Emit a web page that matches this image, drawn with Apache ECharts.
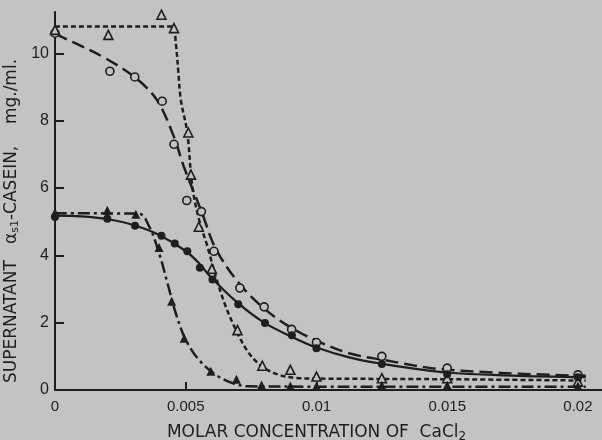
<!DOCTYPE html>
<html>
<head>
<meta charset="utf-8">
<script src="https://cdn.jsdelivr.net/npm/echarts@6/dist/echarts.min.js"></script>
<style>html,body{margin:0;padding:0;background:#c3c3c3;}#c{width:602px;height:440px;}</style>
</head>
<body>
<div id="c"></div>
<script>
// Tick values and labels
var xTicks = [0, 0.005, 0.01, 0.015, 0.02];
var xTickLabels = ['0', '0.005', '0.01', '0.015', '0.02'];
var yTicks = [0, 2, 4, 6, 8, 10];

// Measured points: [CaCl2 molarity, supernatant alpha-s1 casein mg/ml]
var openCircles = [[0,10.6],[0.0021,9.47],[0.00305,9.3],[0.0041,8.58],[0.00455,7.3],[0.00504,5.63],[0.0056,5.3],[0.00608,4.12],[0.00707,3.03],[0.008,2.47],[0.00905,1.8],[0.01,1.41],[0.0125,1.0],[0.015,0.65],[0.02,0.45]];
var openTriangles = [[0,10.7],[0.00204,10.55],[0.00407,11.15],[0.00455,10.75],[0.0051,7.65],[0.0052,6.4],[0.0055,4.85],[0.006,3.6],[0.00698,1.78],[0.00793,0.72],[0.009,0.6],[0.01,0.4],[0.0125,0.35],[0.015,0.35],[0.02,0.25]];
var filledCircles = [[0,5.14],[0.002,5.09],[0.00306,4.88],[0.00407,4.58],[0.00458,4.35],[0.00506,4.12],[0.00554,3.63],[0.00602,3.28],[0.00701,2.55],[0.00803,1.99],[0.00906,1.63],[0.01,1.24],[0.0125,0.77],[0.015,0.47],[0.02,0.38]];
var filledTriangles = [[0,5.27],[0.002,5.34],[0.00309,5.22],[0.00398,4.23],[0.00446,2.64],[0.00494,1.54],[0.00596,0.56],[0.00694,0.32],[0.0079,0.15],[0.009,0.12],[0.01,0.12],[0.0125,0.14],[0.015,0.14],[0.02,0.12]];

// Hand-drawn fitted curves
var curveOpenCircles = [[0,10.58],[0.00067,10.34],[0.00194,9.85],[0.0031,9.26],[0.0039,8.61],[0.00455,7.52],[0.00493,6.63],[0.00563,5.25],[0.00614,4.21],[0.00704,3.17],[0.00806,2.38],[0.00908,1.83],[0.0101,1.43],[0.01125,1.09],[0.0125,0.9],[0.015,0.6],[0.0203,0.42]];
var curveOpenTriangles = [[0,10.8],[0.0045,10.8],[0.00462,10.3],[0.00472,9.42],[0.00481,8.63],[0.00506,7.64],[0.00525,6.05],[0.00551,5.06],[0.00583,4.26],[0.00615,3.37],[0.00653,2.48],[0.00698,1.69],[0.00742,1.09],[0.00793,0.69],[0.00857,0.45],[0.00921,0.36],[0.01,0.34],[0.015,0.32],[0.0203,0.28]];
var curveFilledCircles = [[0,5.18],[0.001,5.16],[0.002,5.08],[0.003,4.9],[0.004,4.6],[0.005,4.13],[0.0055,3.77],[0.006,3.32],[0.007,2.58],[0.008,2.0],[0.009,1.6],[0.01,1.26],[0.01125,0.97],[0.0125,0.78],[0.015,0.52],[0.0175,0.43],[0.0203,0.38]];
var curveFilledTriangles = [[0,5.25],[0.0032,5.24],[0.0036,4.86],[0.00398,4.07],[0.0043,3.18],[0.00462,2.28],[0.005,1.49],[0.00551,0.89],[0.00615,0.45],[0.0068,0.2],[0.0074,0.11],[0.01,0.1],[0.015,0.1],[0.0203,0.1]];

var BG = '#c3c3c3', INK = '#1e1e1e';
var chart = echarts.init(document.getElementById('c'), null, {renderer:'canvas'});
function curve(data, type, w) {
  return {type:'line', data:data, smooth:0.35, showSymbol:false, symbol:'none', silent:true,
    lineStyle:{color:INK, width:w, type:type, cap:'butt'}, z:2};
}
function pts(data, symbol, filled, size) {
  return {type:'scatter', data:data, symbol:symbol, symbolSize:size, silent:true, z:5,
    itemStyle:{color: filled ? INK : BG, borderColor:INK, borderWidth: filled ? 0 : 1.6, opacity:1}};
}
chart.setOption({
  animation:false,
  backgroundColor:BG,
  grid:{left:55, right:0, top:12, bottom:50, containLabel:false, outerBoundsMode:'none'},
  xAxis:{type:'value', min:0, max:0.02092,
    name:'MOLAR CONCENTRATION OF  CaCl{sub|2}', nameLocation:'middle', nameGap:33,
    nameTextStyle:{fontFamily:'DejaVu Sans', fontSize:17, color:INK, padding:[0,24,0,0],
      rich:{sub:{fontFamily:'DejaVu Sans', fontSize:12, color:INK, verticalAlign:'bottom', padding:[8,0,0,0]}}},
    axisLine:{show:true, lineStyle:{color:INK, width:2}},
    axisTick:{show:true, inside:true, length:8, lineStyle:{color:INK, width:2}, customValues:xTicks},
    axisLabel:{show:true, margin:9, fontFamily:'Liberation Sans', fontSize:15, color:INK, customValues:xTicks,
      formatter:function(v){ var i = xTicks.indexOf(v); return i >= 0 ? xTickLabels[i] : ''; }},
    splitLine:{show:false}},
  yAxis:{type:'value', min:0, max:11.23,
    name:'SUPERNATANT   α{sub|s1}-CASEIN,    mg./ml.', nameLocation:'middle', nameGap:31,
    nameTextStyle:{fontFamily:'DejaVu Sans', fontSize:17, color:INK, padding:[0,40,0,0],
      rich:{sub:{fontFamily:'DejaVu Sans', fontSize:11, color:INK, padding:[6,0,0,0]}}},
    axisLine:{show:true, lineStyle:{color:INK, width:2}},
    axisTick:{show:true, inside:true, length:9, lineStyle:{color:INK, width:2}, customValues:yTicks},
    axisLabel:{show:true, margin:6, fontFamily:'Liberation Sans', fontSize:16, color:INK, customValues:yTicks},
    splitLine:{show:false}},
  series:[
    curve(curveOpenCircles, [13,6], 2.5),
    curve(curveOpenTriangles, [5,3], 2.5),
    curve(curveFilledCircles, 'solid', 2.2),
    curve(curveFilledTriangles, [12,4,3,4], 2.5),
    pts(openCircles, 'circle', false, 8),
    pts(openTriangles, 'triangle', false, 9),
    pts(filledCircles, 'circle', true, 8),
    pts(filledTriangles, 'triangle', true, 9)
  ]
});
</script>
</body>
</html>
